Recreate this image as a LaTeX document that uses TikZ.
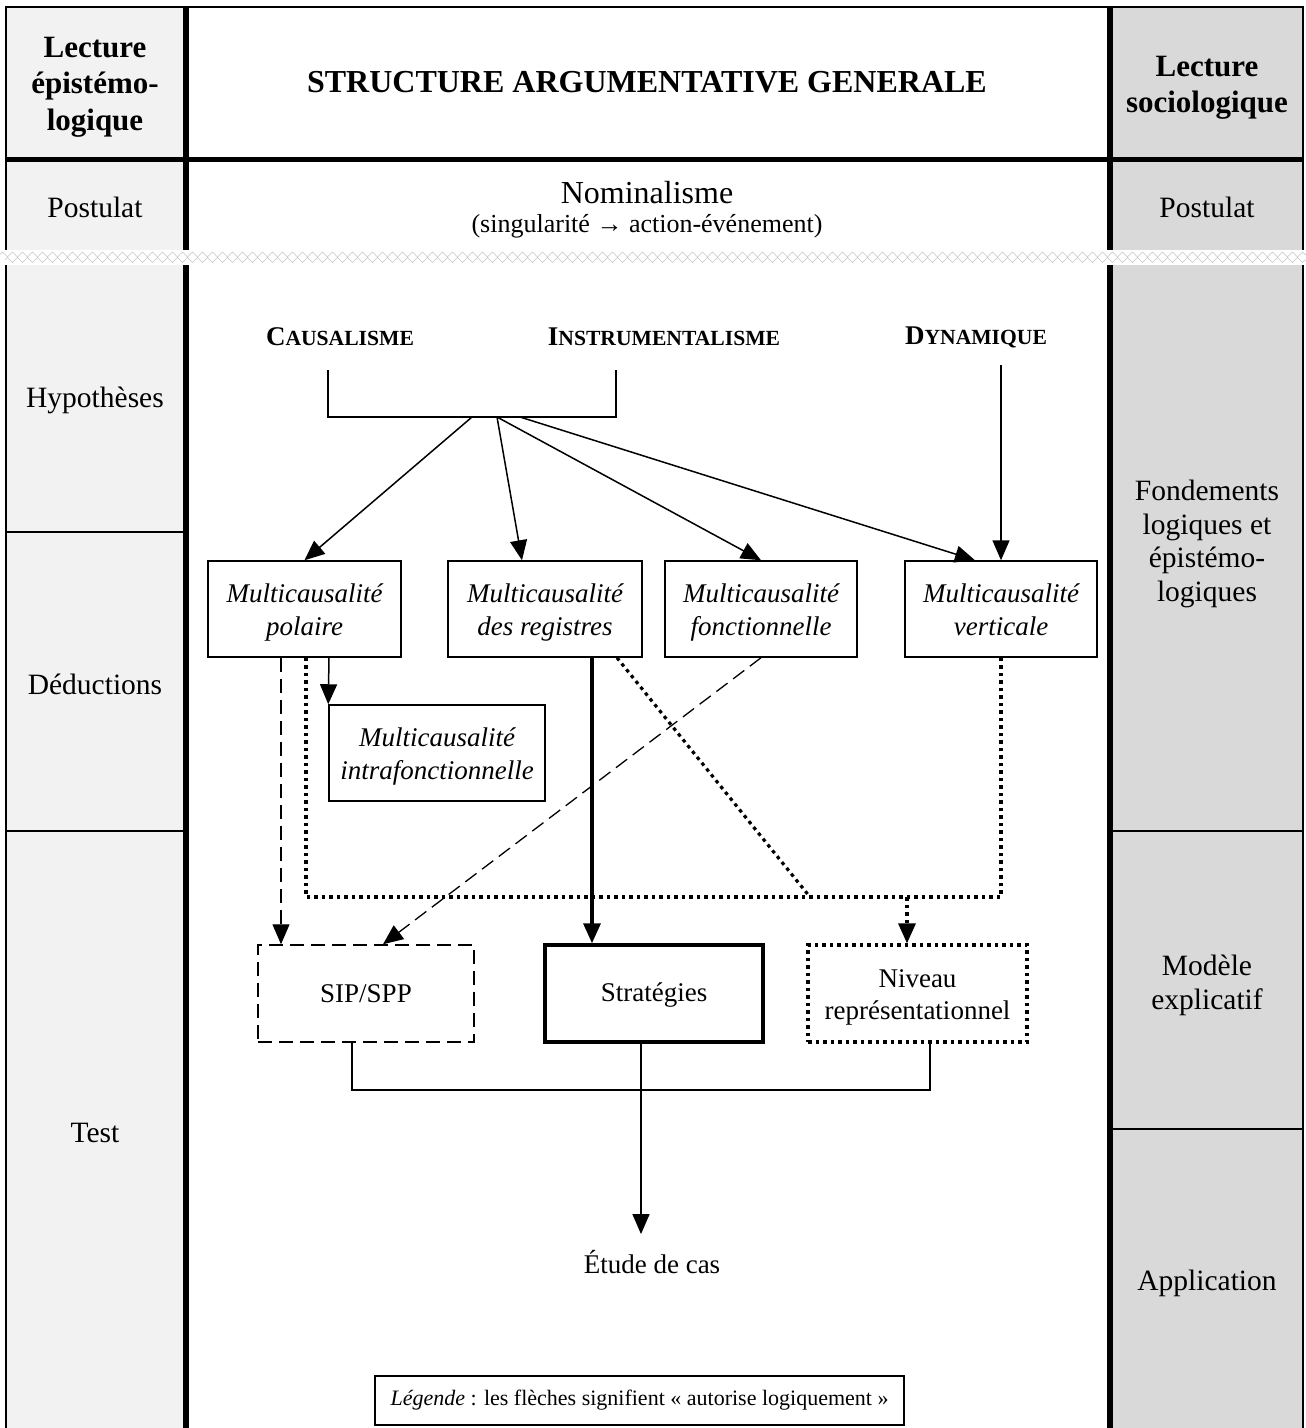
\documentclass[tikz,border=0pt]{standalone}
\usepackage{fontspec}
\setmainfont{Liberation Serif}
\usetikzlibrary{arrows.meta,decorations.pathmorphing}
\definecolor{lgray}{HTML}{F2F2F2}
\definecolor{dgray}{HTML}{D9D9D9}
\newcommand{\fsc}[2]{{\fontsize{27}{32}\selectfont #1}{\fontsize{21.6}{26}\selectfont #2}}
\newcommand{\tstrut}{\rule{0pt}{26pt}}
\newcommand{\bstrut}{\rule[-7pt]{0pt}{7pt}}
\newcommand{\ostrut}{\rule[-5pt]{0pt}{27pt}}
\begin{document}
\begin{tikzpicture}[x=1pt,y=-1pt,
  side/.style={font=\fontsize{29.5}{34}\selectfont, align=center, inner sep=0pt},
  hdr/.style={font=\bfseries\fontsize{31}{36.5}\selectfont, align=center, inner sep=0pt},
  box/.style={draw, line width=1.5pt, minimum height=96pt, align=center, font=\itshape\fontsize{27}{33}\selectfont, inner sep=0pt},
  rbox/.style={draw, line width=1.5pt, minimum height=97pt, align=center, font=\fontsize{27}{32}\selectfont, inner sep=0pt},
  arr/.style={-{Triangle[length=20pt,width=17pt]}, line width=1.5pt},
  dsh/.style={dash pattern=on 14pt off 7pt, line width=1.3pt},
  dts/.style={dash pattern=on 3.5pt off 4pt, line width=3.2pt},
  thin/.style={line width=1.5pt},
]
\useasboundingbox (0,0) rectangle (1306,1428);
\fill[white] (0,0) rectangle (1306,1428);
% column fills
\fill[lgray] (6,7) rectangle (186,1428);
\fill[dgray] (1110,7) rectangle (1303,1428);
% frame
\draw[line width=2pt] (6,1428) -- (6,7) -- (1303,7) -- (1303,1428);
\draw[line width=6pt] (186,7) -- (186,1428);
\draw[line width=6pt] (1110,7) -- (1110,1428);
\draw[line width=5pt] (6,159) -- (1303,159);
\draw[line width=2pt] (6,532) -- (183,532);
\draw[line width=2pt] (6,831) -- (183,831);
\draw[line width=2pt] (1113,831) -- (1303,831);
\draw[line width=2pt] (1113,1129) -- (1303,1129);
% break band
\fill[white] (0,250) rectangle (1306,265);
\draw[gray!45, line width=0.6pt, decorate, decoration={zigzag, amplitude=2.5pt, segment length=10pt}] (0,254.5) -- (1306,254.5);
\draw[gray!45, line width=0.6pt, decorate, decoration={zigzag, amplitude=2.5pt, segment length=10pt}] (5,260) -- (1306,260);

% header texts
\node[hdr] (hl) at (95,87) {Lecture\\épistémo-\\logique};
\node[hdr, font=\bfseries\fontsize{32}{36}\selectfont] (ht) at (647,82) {STRUCTURE ARGUMENTATIVE GENERALE};
\node[hdr] (hr) at (1207,88) {Lecture\\sociologique};

% side labels
\node[side] (pl) at (95,207) {Postulat};
\node[side] (pr) at (1207,207) {Postulat};
\node[side] (hy) at (95,400) {Hypothèses};
\node[side] (de) at (95,684) {Déductions};
\node[side] (te) at (95,1133) {Test};
\node[side, font=\fontsize{29.5}{33.5}\selectfont] (fo) at (1207,544) {Fondements\\logiques et\\épistémo-\\logiques};
\node[side] (mo) at (1207,985) {Modèle\\explicatif};
\node[side] (ap) at (1207,1283) {Application};

% nominalisme
\node[inner sep=0pt, font=\fontsize{32}{36}\selectfont] (nom) at (647,193) {Nominalisme};
\node[inner sep=0pt, font=\fontsize{26}{30}\selectfont] (nsub) at (647,226) {(singularité → action-événement)};

% top concepts
\node[inner sep=0pt, font=\bfseries] (caus) at (340,337) {\fsc{C}{AUSALISME}};
\node[inner sep=0pt, font=\bfseries] (inst) at (664,337) {\fsc{I}{NSTRUMENTALISME}};
\node[inner sep=0pt, font=\bfseries] (dyn) at (976,337) {\fsc{D}{YNAMIQUE}};

% boxes row 1
\node[box, minimum width=193pt] (pol) at (304.5,609) {\tstrut Multicausalité\\polaire\bstrut};
\node[box, minimum width=194pt] (reg) at (545,609) {\tstrut Multicausalité\\des registres\bstrut};
\node[box, minimum width=192pt] (fon) at (761,609) {\tstrut Multicausalité\\fonctionnelle\bstrut};
\node[box, minimum width=192pt] (ver) at (1001,609) {\tstrut Multicausalité\\verticale\bstrut};
\node[box, minimum width=216pt] (intra) at (437,753) {\tstrut Multicausalité\\intrafonctionnelle\bstrut};

% boxes row 2
\node[rbox, minimum width=216pt, dash pattern=on 14pt off 7pt] (sip) at (366,993.5) {\ostrut SIP/SPP};
\node[rbox, minimum width=218pt, line width=3.5pt] (strat) at (654,993.5) {\ostrut Stratégies};
\node[rbox, minimum width=219pt, dts] (niv) at (917.5,993.5) {\tstrut Niveau\\représentationnel\bstrut};

\node[inner ysep=16pt, inner xsep=0pt, font=\fontsize{27}{32}\selectfont] (etude) at (652,1262) {Étude de cas};

\node[draw, line width=1.2pt, minimum width=529pt, minimum height=49pt, inner sep=0pt, font=\fontsize{22}{26}\selectfont] (leg) at (639.5,1400.5) {\textit{Légende} : les flèches signifient «~autorise logiquement~»};

% bracket top
\coordinate (cl) at (328,370);
\coordinate (bl) at (328,417);
\coordinate (br) at (616,417);
\coordinate (cr) at (616,370);
\draw[thin] (cl) -- (bl) -- (br) -- (cr);
\coordinate (s1) at (472,417);
\coordinate (s2) at (497,417);
\coordinate (s3) at (520,417);
\coordinate (dtop) at (1001,365);
\draw[arr] (s1) -- (pol.north);
\draw[arr] (s2) -- (522,0 |- reg.north);
\draw[arr] (s2) -- (fon.north);
\draw[arr] (s3) -- (975,0 |- ver.north);
\draw[arr] (dtop) -- (ver.north);

% from polaire
\draw[arr] (329,0 |- pol.south) -- (intra.north west);
\draw[arr, dsh] (281,0 |- pol.south) -- (281,0 |- sip.north);

% dotted bus
\coordinate (dl) at (306,897);
\coordinate (dr) at (1001,897);
\coordinate (dm) at (810,897);
\coordinate (dn) at (907,897);
\draw[dts] (306,0 |- pol.south) -- (dl) -- (dr) -- (ver.south);
\draw[dts] (617,0 |- reg.south) -- (dm);
\draw[dts, -{Triangle[length=20pt,width=17pt]}] (dn) -- (907,0 |- niv.north);

% registres -> strategies
\draw[arr, line width=3.5pt] (592,0 |- reg.south) -- (592,0 |- strat.north);
% fonctionnelle -> SIP
\draw[arr, dsh] (fon.south) -- (383,0 |- sip.north);

% bottom bracket
\coordinate (bb1) at (352,1090);
\coordinate (bb2) at (930,1090);
\draw[thin] (352,0 |- sip.south) -- (bb1) -- (bb2) -- (930,0 |- niv.south);
\draw[arr] (641,0 |- strat.south) -- (641,0 |- etude.north);
\end{tikzpicture}
\end{document}
